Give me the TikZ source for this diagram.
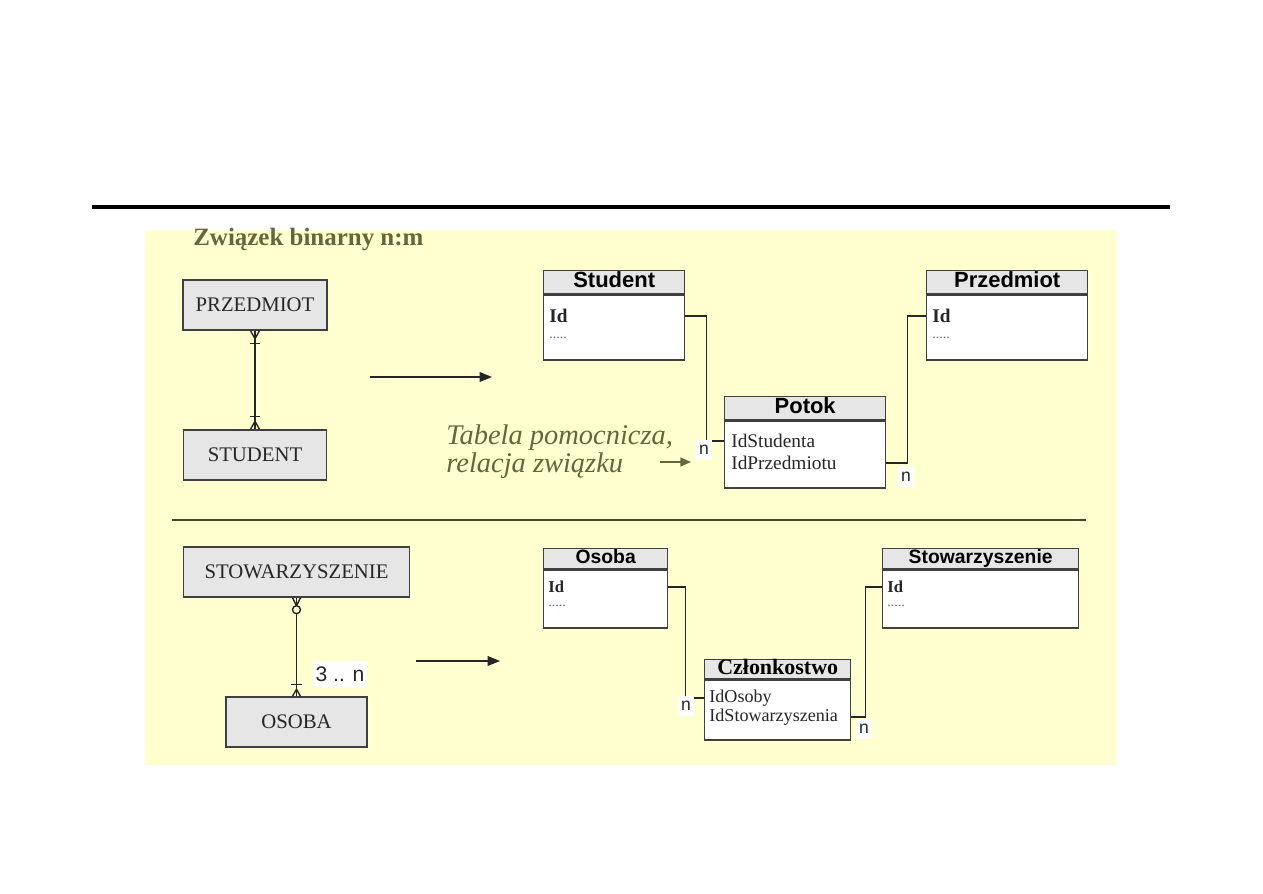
\documentclass[tikz,border=0pt]{standalone}
\usepackage{fontspec}
\setmainfont{Liberation Serif}
\setsansfont{Liberation Sans}
\usepackage{tikz}
\usetikzlibrary{arrows.meta, positioning, calc}
\usepackage{xcolor}
\definecolor{notepaper}{RGB}{255,255,208}
\definecolor{titleolive}{RGB}{102,102,60}
\definecolor{boxgray}{RGB}{230,230,230}
\definecolor{linegray}{RGB}{64,64,64}

\tikzset{
  erbox/.style={draw=linegray, fill=boxgray, line width=0.8pt, minimum height=1cm,
                inner sep=0pt, text=black!85, font=\fontsize{11.8}{14}\selectfont},
  tabhead/.style={draw=linegray, fill=boxgray, line width=0.8pt, anchor=north west,
                  inner sep=0pt, text height=0.75em, text depth=0.15em,
                  font=\sffamily\bfseries\fontsize{12.5}{14}\selectfont},
  tabbody/.style={draw=linegray, fill=white, line width=0.8pt, inner sep=0pt},
  field/.style={anchor=west, inner sep=0pt, text=black!85, font=\fontsize{11}{13}\selectfont},
  keyfield/.style={field, font=\bfseries\fontsize{11}{13}\selectfont},
  dots/.style={field, text=black!60, font=\fontsize{8}{9}\selectfont},
  card/.style={fill=white, inner xsep=1.5pt, inner ysep=3pt, text=black!85,
               font=\sffamily\fontsize{10}{12}\selectfont},
  link/.style={draw=black!85, line width=0.8pt},
}

\begin{document}
\begin{tikzpicture}[x=0.02cm, y=-0.02cm]
  \useasboundingbox (0,0) rectangle (1263,893);
  \draw[line width=2.4pt] (92,207) -- (1170,207);
  \fill[notepaper] (145,230) rectangle (1117,765);
  \node[anchor=west, inner sep=0pt, text=titleolive, font=\bfseries\fontsize{14.2}{16}\selectfont]
    (title) at (193,240) {Związek binarny n:m};

  % binarny n:m -- diagram ER
  \node[erbox, minimum width=2.88cm] (e-przedmiot) at (255,305) {PRZEDMIOT};
  \node[erbox, minimum width=2.86cm] (e-student) at (255,455) {STUDENT};
  \draw[link] (e-przedmiot) -- (e-student);
  \draw[link] (e-przedmiot.south) ++(-4.5,0) -- ++(4.5,8) -- ++(4.5,-8);
  \draw[link] (e-przedmiot.south) ++(-5,13) -- ++(10,0);
  \draw[link] (e-student.north) ++(-5,-13) -- ++(10,0);
  \draw[link] (e-student.north) ++(-4.5,0) -- ++(4.5,-8) -- ++(4.5,8);

  \coordinate (a1s) at (370,377);
  \coordinate (a1e) at (492,377);
  \draw[link, -{Triangle[length=7pt,width=5.5pt]}] (a1s) -- (a1e);

  % tabele
  \node[tabhead, minimum width=2.82cm, minimum height=0.46cm] (t-student-h) at (543,270) {Student};
  \node[tabbody, minimum width=2.82cm, minimum height=1.3cm, below=0pt of t-student-h] (t-student) {};
  \node[keyfield] (stud-id) at (549,316) {Id};
  \node[dots] at (549,338) {.....};

  \node[tabhead, minimum width=3.22cm, minimum height=0.46cm] (t-przedmiot-h) at (926,270) {Przedmiot};
  \node[tabbody, minimum width=3.22cm, minimum height=1.3cm, below=0pt of t-przedmiot-h] (t-przedmiot) {};
  \node[keyfield] (prz-id) at (932,316) {Id};
  \node[dots] at (932,338) {.....};

  \node[tabhead, minimum width=3.22cm, minimum height=0.46cm] (t-potok-h) at (724,396) {Potok};
  \node[tabbody, minimum width=3.22cm, minimum height=1.34cm, below=0pt of t-potok-h] (t-potok) {};
  \node[field] (pot-a) at (731,441) {IdStudenta};
  \node[field] (pot-b) at (731,463) {IdPrzedmiotu};

  \draw[link] (stud-id -| t-student.east) -- ++(21,0) |- (pot-a -| t-potok.west);
  \draw[link] (pot-b -| t-potok.east) -- ++(21,0) |- (prz-id -| t-przedmiot.west);
  \node[card] (n1) at (704,450) {n};
  \node[card] (n2) at (906,477) {n};

  \node[anchor=west, align=left, inner sep=0pt, text=titleolive,
        font=\itshape\fontsize{16.2}{16}\selectfont] (tabnote) at (446,452)
    {Tabela pomocnicza,\\relacja związku};
  \coordinate (a2s) at (660,462);
  \coordinate (a2e) at (691,462);
  \draw[draw=titleolive, line width=0.8pt, -{Triangle[length=6pt,width=5pt]}] (a2s) -- (a2e);

  \draw[draw=titleolive!70!black, line width=0.7pt] (172,520) -- (1086,520);

  % drugi przyklad
  \node[erbox, minimum width=4.52cm] (e-stow) at (296.5,572) {STOWARZYSZENIE};
  \node[erbox, minimum width=2.82cm] (e-osoba) at (296.5,722) {OSOBA};
  \draw[link] (e-stow) -- (e-osoba);
  \draw[link] (e-stow.south) ++(-4,0) -- ++(4,8) -- ++(4,-8);
  \draw[link, fill=notepaper] ($(e-stow.south)+(0,12)$) circle[radius=0.08cm];
  \draw[link] (e-osoba.north) ++(-5.5,-12) -- ++(11,0);
  \draw[link] (e-osoba.north) ++(-4,0) -- ++(4,-7) -- ++(4,7);
  \node[card, font=\sffamily\fontsize{12}{14}\selectfont] (card-3n) at (340,674) {3 .. n};

  \coordinate (a3s) at (416,661);
  \coordinate (a3e) at (500,661);
  \draw[link, -{Triangle[length=7pt,width=5.5pt]}] (a3s) -- (a3e);

  \node[tabhead, minimum width=2.48cm, minimum height=0.4cm,
        font=\sffamily\bfseries\fontsize{11}{13}\selectfont] (t-osoba-h) at (543,548) {Osoba};
  \node[tabbody, minimum width=2.48cm, minimum height=1.16cm, below=0pt of t-osoba-h] (t-osoba) {};
  \node[keyfield, font=\bfseries\fontsize{9.5}{11}\selectfont] (oso-id) at (548,587) {Id};
  \node[dots] at (548,606) {.....};

  \node[tabhead, minimum width=3.92cm, minimum height=0.4cm,
        font=\sffamily\bfseries\fontsize{11}{13}\selectfont] (t-stow-h) at (882,548) {Stowarzyszenie};
  \node[tabbody, minimum width=3.92cm, minimum height=1.16cm, below=0pt of t-stow-h] (t-stow) {};
  \node[keyfield, font=\bfseries\fontsize{9.5}{11}\selectfont] (sto-id) at (887,587) {Id};
  \node[dots] at (887,606) {.....};

  \node[tabhead, minimum width=2.92cm, minimum height=0.38cm,
        font=\bfseries\fontsize{12.5}{14}\selectfont] (t-czl-h) at (704,659) {Członkostwo};
  \node[tabbody, minimum width=2.92cm, minimum height=1.2cm, below=0pt of t-czl-h] (t-czl) {};
  \node[field, font=\fontsize{10.3}{12}\selectfont] (czl-a) at (709,698) {IdOsoby};
  \node[field, font=\fontsize{10.3}{12}\selectfont] (czl-b) at (709,717) {IdStowarzyszenia};

  \draw[link] (oso-id -| t-osoba.east) -- ++(17,0) |- (czl-a -| t-czl.west);
  \draw[link] (czl-b -| t-czl.east) -- ++(14,0) |- (sto-id -| t-stow.west);
  \node[card] (n3) at (686,706) {n};
  \node[card] (n4) at (864,729) {n};
\end{tikzpicture}
\end{document}
